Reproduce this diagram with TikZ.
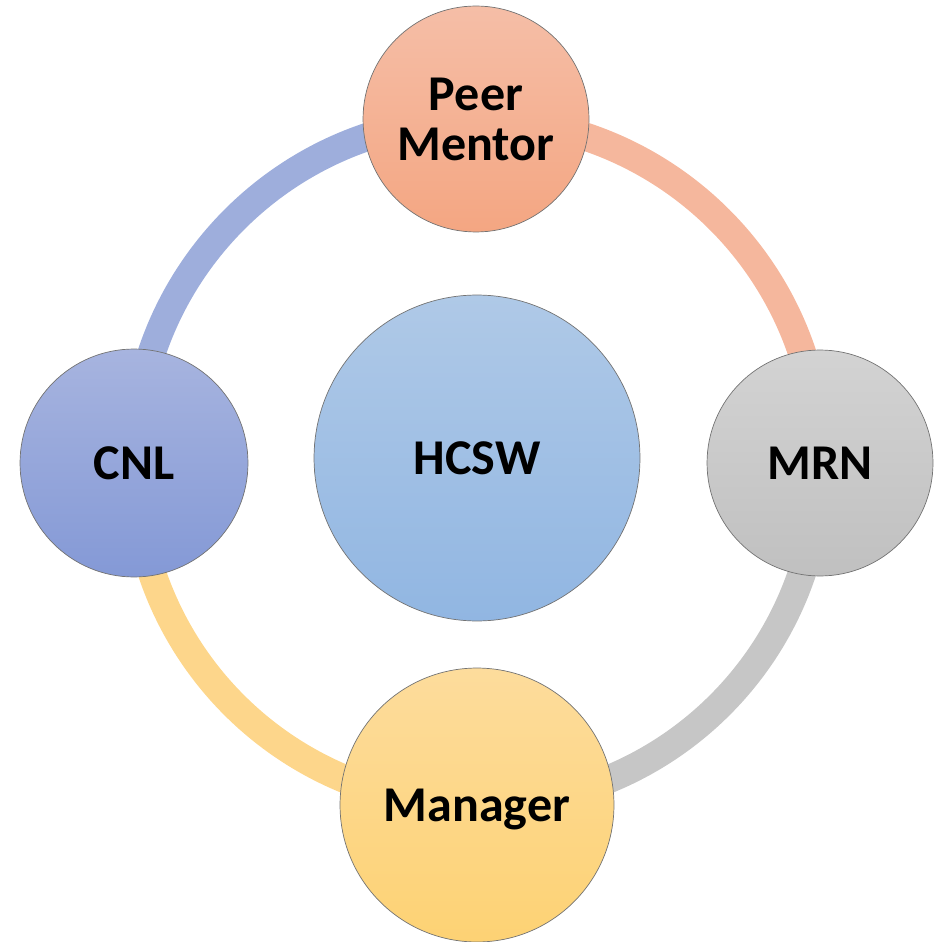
\documentclass[tikz,border=0pt]{standalone}
\usepackage{fontspec}
\setmainfont{Carlito}
\usetikzlibrary{backgrounds}

\definecolor{peerTop}{HTML}{F5BEA7}
\definecolor{peerBot}{HTML}{F4A682}
\definecolor{mrnTop}{HTML}{D3D3D3}
\definecolor{mrnBot}{HTML}{C0C0C0}
\definecolor{mgrTop}{HTML}{FDDC9C}
\definecolor{mgrBot}{HTML}{FDD274}
\definecolor{cnlTop}{HTML}{A7B4DF}
\definecolor{cnlBot}{HTML}{8499D6}
\definecolor{hcswTop}{HTML}{AFC9E7}
\definecolor{hcswBot}{HTML}{91B6E2}
\definecolor{ringBlue}{HTML}{9EAEDC}
\definecolor{ringPeer}{HTML}{F5B79D}
\definecolor{ringGray}{HTML}{C6C6C6}
\definecolor{ringGold}{HTML}{FDD68B}

\tikzset{
  role/.style={circle, draw=black!55, thin, inner sep=0pt, align=center,
    font=\bfseries\fontsize{28.5}{28.5}\selectfont},
  ring/.style={line width=16pt, bend left=45}
}

\begin{document}
\begin{tikzpicture}[x=0.02cm, y=-0.02cm]
  \useasboundingbox (0,0) rectangle (933,942);

  % outer roles
  \node[role, minimum size=4.52cm, top color=peerTop, bottom color=peerBot] (peer) at (476,119) {Peer\\Mentor};
  \node[role, minimum size=4.52cm, top color=mrnTop, bottom color=mrnBot] (mrn) at (820,463) {MRN};
  \node[role, minimum size=5.48cm, top color=mgrTop, bottom color=mgrBot, text depth=0pt] (mgr) at (477,805) {Manager};
  \node[role, minimum size=4.56cm, top color=cnlTop, bottom color=cnlBot] (cnl) at (134,463) {CNL};

  % centre
  \node[role, minimum size=6.52cm, top color=hcswTop, bottom color=hcswBot] (hcsw) at (477,458) {HCSW};

  \begin{pgfonlayer}{background}
    \draw[ring, ringBlue] (cnl.center) to (peer.center);
    \draw[ring, ringPeer] (peer.center) to (mrn.center);
    \draw[ring, ringGray] (mrn.center) to (mgr.center);
    \draw[ring, ringGold] (mgr.center) to (cnl.center);
  \end{pgfonlayer}
\end{tikzpicture}
\end{document}
